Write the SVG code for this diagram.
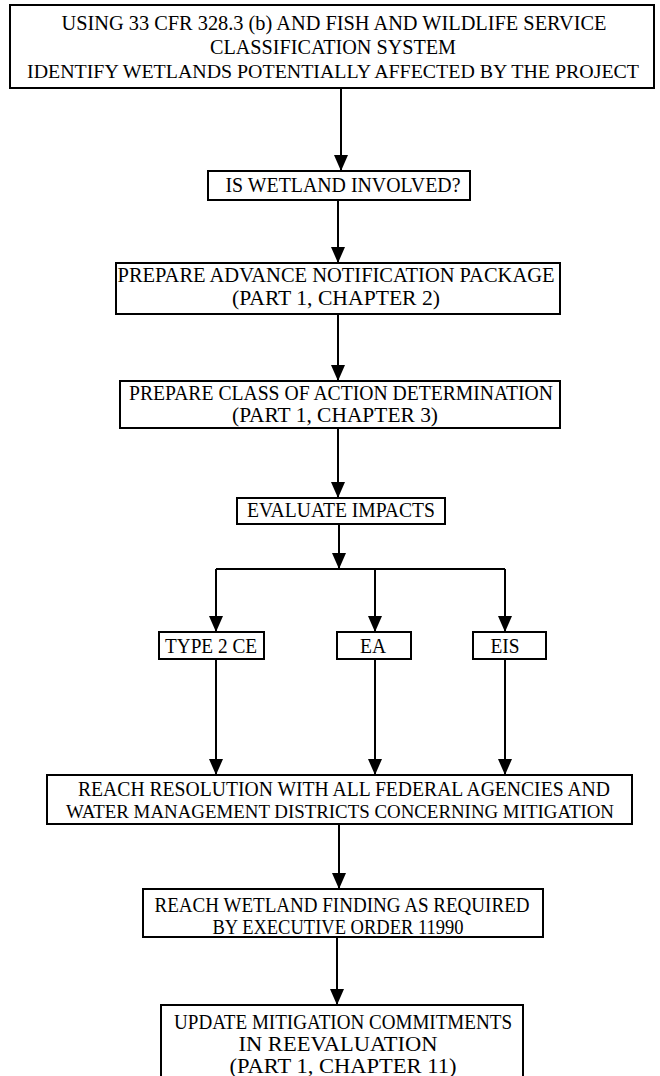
<svg xmlns="http://www.w3.org/2000/svg" width="660" height="1076" viewBox="0 0 660 1076">
<style>
.box{fill:#fff;stroke:#000;stroke-width:2}
.t{font-family:"Liberation Serif","Times New Roman",serif;font-size:21px;fill:#000;text-anchor:middle}
.s{font-size:19.5px}
.c{fill:none;stroke:#000;stroke-width:2}
</style>
<rect width="660" height="1076" fill="#fff"/>
<g id="connectors">
<path class="c" d="M341,88 V171"/>
<path class="c" d="M338,200 V263"/>
<path class="c" d="M338,314 V381"/>
<path class="c" d="M338,428 V498"/>
<path class="c" d="M339,524 V569"/>
<path class="c" d="M216,569 H505"/>
<path class="c" d="M216,569 V632"/>
<path class="c" d="M375,569 V632"/>
<path class="c" d="M505,569 V632"/>
<path class="c" d="M216,659 V775"/>
<path class="c" d="M375,659 V775"/>
<path class="c" d="M505,659 V775"/>
<path class="c" d="M339,824 V889"/>
<path class="c" d="M337,937 V1005"/>
<g fill="#000">
<path d="M334,155 L348,155 L341,171 Z"/>
<path d="M331,247 L345,247 L338,263 Z"/>
<path d="M331,365 L345,365 L338,381 Z"/>
<path d="M331,482 L345,482 L338,498 Z"/>
<path d="M332,553 L346,553 L339,569 Z"/>
<path d="M209,616 L223,616 L216,632 Z"/>
<path d="M368,616 L382,616 L375,632 Z"/>
<path d="M498,616 L512,616 L505,632 Z"/>
<path d="M209,759 L223,759 L216,775 Z"/>
<path d="M368,759 L382,759 L375,775 Z"/>
<path d="M498,759 L512,759 L505,775 Z"/>
<path d="M332,873 L346,873 L339,889 Z"/>
<path d="M330,989 L344,989 L337,1005 Z"/>
</g>
</g>
<g id="n1">
<rect class="box" x="10" y="5" width="644" height="83"/>
<text class="t" x="334" y="30" textLength="545" lengthAdjust="spacingAndGlyphs">USING 33 CFR 328.3 (b) AND FISH AND WILDLIFE SERVICE</text>
<text class="t" x="333" y="54" textLength="246" lengthAdjust="spacingAndGlyphs">CLASSIFICATION SYSTEM</text>
<text class="t s" x="333" y="78" textLength="612" lengthAdjust="spacingAndGlyphs">IDENTIFY WETLANDS POTENTIALLY AFFECTED BY THE PROJECT</text>
</g>
<g id="n2">
<rect class="box" x="208" y="171" width="262" height="29"/>
<text class="t" x="343" y="192" textLength="235" lengthAdjust="spacingAndGlyphs">IS WETLAND INVOLVED?</text>
</g>
<g id="n3">
<rect class="box" x="116" y="263" width="444" height="51"/>
<text class="t" x="336" y="282" textLength="437" lengthAdjust="spacingAndGlyphs">PREPARE ADVANCE NOTIFICATION PACKAGE</text>
<text class="t" x="336" y="305" textLength="208" lengthAdjust="spacingAndGlyphs">(PART 1, CHAPTER 2)</text>
</g>
<g id="n4">
<rect class="box" x="120" y="381" width="440" height="47"/>
<text class="t" x="341" y="400" textLength="424" lengthAdjust="spacingAndGlyphs">PREPARE CLASS OF ACTION DETERMINATION</text>
<text class="t" x="335" y="422" textLength="206" lengthAdjust="spacingAndGlyphs">(PART 1, CHAPTER 3)</text>
</g>
<g id="n5">
<rect class="box" x="237" y="498" width="208" height="26"/>
<text class="t" x="341" y="517" textLength="188" lengthAdjust="spacingAndGlyphs">EVALUATE IMPACTS</text>
</g>
<g id="n6">
<rect class="box" x="159" y="632" width="105" height="27"/>
<text class="t" x="211" y="653" textLength="92" lengthAdjust="spacingAndGlyphs">TYPE 2 CE</text>
</g>
<g id="n7">
<rect class="box" x="337" y="632" width="74" height="27"/>
<text class="t" x="373" y="653" textLength="26" lengthAdjust="spacingAndGlyphs">EA</text>
</g>
<g id="n8">
<rect class="box" x="473" y="632" width="73" height="27"/>
<text class="t" x="505" y="653" textLength="29" lengthAdjust="spacingAndGlyphs">EIS</text>
</g>
<g id="n9">
<rect class="box" x="47" y="775" width="585" height="49"/>
<text class="t" x="344" y="796" textLength="532" lengthAdjust="spacingAndGlyphs">REACH RESOLUTION WITH ALL FEDERAL AGENCIES AND</text>
<text class="t s" x="340" y="818" textLength="548" lengthAdjust="spacingAndGlyphs">WATER MANAGEMENT DISTRICTS CONCERNING MITIGATION</text>
</g>
<g id="n10">
<rect class="box" x="143" y="889" width="400" height="48"/>
<text class="t" x="342" y="912" textLength="375" lengthAdjust="spacingAndGlyphs">REACH WETLAND FINDING AS REQUIRED</text>
<text class="t" x="338" y="934" textLength="251" lengthAdjust="spacingAndGlyphs">BY EXECUTIVE ORDER 11990</text>
</g>
<g id="n11">
<rect class="box" x="161" y="1005" width="362" height="80"/>
<text class="t" x="343" y="1029" textLength="338" lengthAdjust="spacingAndGlyphs">UPDATE MITIGATION COMMITMENTS</text>
<text class="t" x="338" y="1051" textLength="199" lengthAdjust="spacingAndGlyphs">IN REEVALUATION</text>
<text class="t" x="343" y="1073" textLength="227" lengthAdjust="spacingAndGlyphs">(PART 1, CHAPTER 11)</text>
</g>
</svg>
